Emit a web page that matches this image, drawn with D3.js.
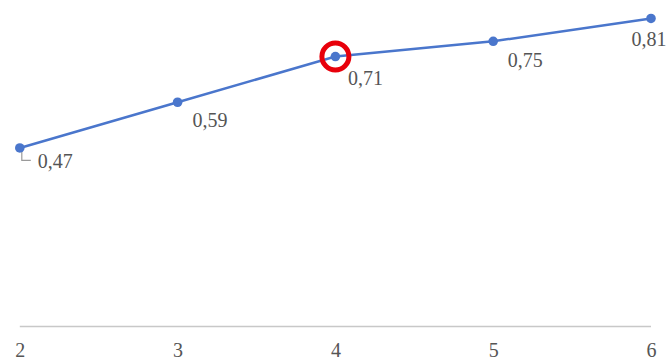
<!DOCTYPE html>
<html>
<head>
<meta charset="utf-8">
<script src="https://cdn.jsdelivr.net/npm/d3@7"></script>
<style>
  html, body { margin: 0; padding: 0; background: #fff; }
  svg { display: block; }
</style>
</head>
<body>
<svg id="chart" width="668" height="359"></svg>
<script>
const categories = ["2", "3", "4", "5", "6"];
const values = [0.47, 0.59, 0.71, 0.75, 0.81];
const labels = ["0,47", "0,59", "0,71", "0,75", "0,81"];
const highlighted = "4";

const W = 668, H = 359;
const svg = d3.select("#chart");

const x = d3.scalePoint().domain(categories).range([19.8, 651]);
const y = d3.scaleLinear().domain([0, 0.85]).range([327, 3.2]);

const data = categories.map((c, i) => ({ c, v: values[i], label: labels[i] }));

// axis line
const xAxis = d3.axisBottom(x).tickSize(0).tickPadding(0);
const ax = svg.append("g").attr("transform", "translate(0,326.5)").call(xAxis);
ax.select(".domain").attr("d", `M${x(categories[0])},0H${x(categories[categories.length-1])}`)
  .attr("stroke", "#c8c8c8").attr("stroke-width", 1.5);
ax.selectAll(".tick text")
  .attr("y", 30)
  .attr("dy", 0)
  .attr("font-family", "'Liberation Serif', 'Times New Roman', serif")
  .attr("font-size", 20)
  .attr("fill", "#555");

// line
const line = d3.line().x(d => x(d.c)).y(d => y(d.v));
svg.append("path").datum(data)
  .attr("d", line)
  .attr("fill", "none")
  .attr("stroke", "#4a76cc")
  .attr("stroke-width", 2.5);

// leader line for first label
const first = data[0];
svg.append("path")
  .attr("d", `M${x(first.c) + 2},${y(first.v) + 4}V${y(first.v) + 12.5}H${x(first.c) + 11}`)
  .attr("fill", "none")
  .attr("stroke", "#9a9a9a")
  .attr("stroke-width", 1.2);

// points
svg.selectAll("circle.pt").data(data).enter().append("circle")
  .attr("class", "pt")
  .attr("cx", d => x(d.c)).attr("cy", d => y(d.v))
  .attr("r", 4.8)
  .attr("fill", "#4a76cc");

// highlight circle
const hd = data.find(d => d.c === highlighted);
svg.append("circle")
  .attr("cx", x(hd.c)).attr("cy", y(hd.v))
  .attr("r", 13.5)
  .attr("fill", "none")
  .attr("stroke", "#e8000b")
  .attr("stroke-width", 5);

// data labels
const offs = [[18, 20.5, "start"], [15, 25, "start"], [12.5, 28, "start"], [14.5, 26, "start"], [15.5, 28, "end"]];
svg.selectAll("text.lbl").data(data).enter().append("text")
  .attr("class", "lbl")
  .attr("x", (d, i) => x(d.c) + offs[i][0])
  .attr("y", (d, i) => y(d.v) + offs[i][1])
  .attr("text-anchor", (d, i) => offs[i][2])
  .attr("font-family", "'Liberation Serif', 'Times New Roman', serif")
  .attr("font-size", 20)
  .attr("fill", "#555")
  .text(d => d.label);
</script>
</body>
</html>
